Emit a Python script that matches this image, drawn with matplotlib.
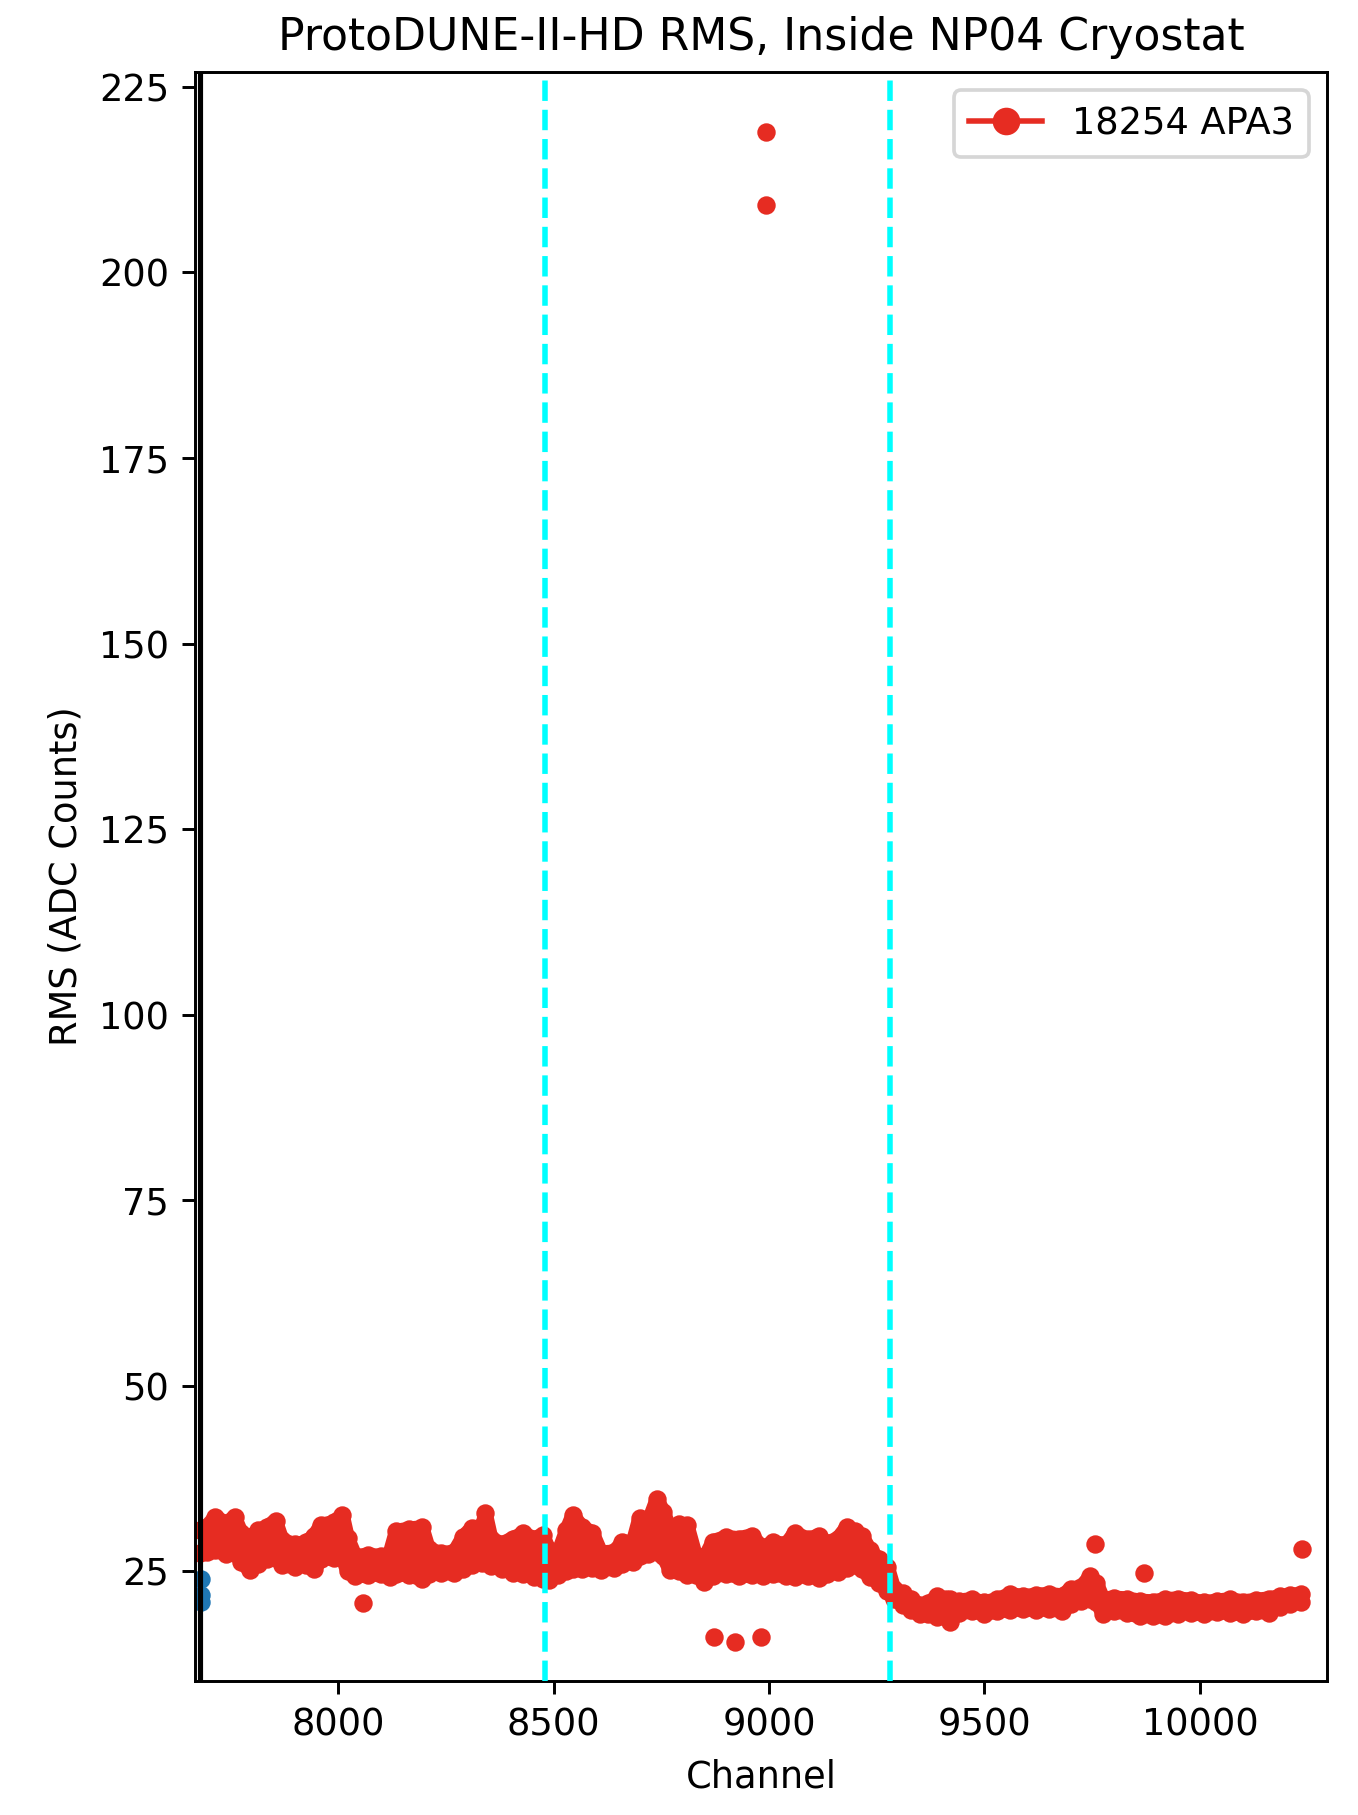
import matplotlib
matplotlib.use("Agg")
import matplotlib.pyplot as plt
from matplotlib.lines import Line2D
import numpy as np

# band of the noise cloud: channel, upper / lower edge (marker centres)
band_ch = [7680, 7695, 7715, 7740, 7760, 7775, 7795, 7815, 7835, 7855,
           7870, 7900, 7925, 7945, 7960, 7990, 8010, 8022, 8040, 8070,
           8100, 8120, 8135, 8165, 8195, 8210, 8240, 8270, 8290, 8310,
           8335, 8342, 8355, 8380, 8405, 8430, 8455, 8475, 8490, 8510,
           8530, 8545, 8565, 8590, 8610, 8640, 8660, 8685, 8700, 8720,
           8740, 8755, 8770, 8790, 8810, 8830, 8850, 8870, 8900, 8930,
           8960, 8985, 9010, 9040, 9060, 9090, 9115, 9135, 9160, 9180,
           9200, 9215, 9235, 9255, 9275, 9290, 9310, 9330, 9350, 9370,
           9390, 9410, 9420, 9440, 9470, 9500, 9530, 9560, 9590, 9620,
           9650, 9680, 9700, 9725, 9745, 9760, 9775, 9800, 9830, 9860,
           9890, 9920, 9950, 9980, 10010, 10040, 10070, 10100, 10130, 10160,
           10185, 10210, 10235]
band_hi = [30.5, 31.0, 32.3, 31.5, 32.3, 30.2, 29.6, 30.5, 31.0, 31.8,
           29.2, 28.6, 28.9, 29.8, 31.2, 31.6, 32.6, 29.5, 27.0, 27.2,
           27.0, 27.3, 30.4, 30.7, 30.9, 28.0, 27.4, 27.6, 29.6, 30.8,
           31.1, 32.8, 29.4, 28.7, 29.4, 30.1, 29.4, 29.9, 27.8, 27.3,
           30.5, 32.6, 31.0, 30.2, 27.5, 27.6, 28.9, 29.0, 32.2, 31.6,
           34.7, 33.0, 30.7, 31.4, 31.2, 27.0, 26.7, 29.0, 29.6, 29.4,
           29.8, 28.2, 28.9, 28.6, 30.2, 29.3, 29.8, 28.8, 29.4, 30.9,
           30.4, 29.8, 27.8, 26.6, 25.6, 22.6, 22.0, 21.3, 20.4, 20.7,
           21.6, 21.3, 21.2, 21.0, 21.2, 20.8, 21.2, 21.9, 21.6, 21.8,
           21.9, 21.7, 22.6, 22.9, 24.3, 23.4, 21.3, 21.4, 21.3, 21.0,
           20.9, 21.2, 21.3, 21.1, 20.8, 21.0, 21.2, 20.9, 21.1, 21.3,
           21.6, 21.8, 21.9]
band_lo = [27.5, 27.6, 27.8, 27.3, 27.6, 26.2, 25.2, 26.0, 26.6, 26.8,
           25.8, 25.6, 25.9, 25.3, 26.6, 26.8, 26.9, 25.0, 24.3, 24.5,
           24.6, 24.2, 24.6, 24.5, 23.9, 24.6, 24.8, 24.7, 25.3, 25.8,
           26.1, 26.4, 25.7, 25.3, 24.8, 24.6, 24.2, 23.9, 23.8, 24.5,
           25.0, 25.3, 25.3, 25.4, 25.2, 25.4, 26.0, 26.2, 27.0, 27.3,
           27.6, 27.0, 25.2, 25.0, 24.5, 24.5, 23.6, 24.4, 24.6, 24.3,
           24.5, 24.4, 24.6, 24.3, 24.2, 24.4, 24.1, 24.6, 24.9, 25.5,
           25.8, 25.3, 24.2, 23.4, 22.4, 21.2, 20.5, 19.8, 19.2, 19.2,
           18.8, 18.8, 18.2, 19.4, 19.6, 19.3, 19.6, 19.8, 19.9, 19.8,
           19.9, 19.7, 20.6, 21.0, 21.3, 20.9, 19.3, 19.6, 19.4, 18.9,
           19.0, 18.9, 19.3, 19.4, 19.2, 19.5, 19.4, 19.2, 19.6, 19.4,
           20.2, 20.6, 20.8]

# isolated channels away from the cloud
out_ch = [8058, 8873, 8920, 8981, 8992, 8992, 9757, 9871, 10238]
out_rms = [20.7, 16.1, 15.4, 16.1, 218.9, 209.1, 28.7, 24.8, 28.0]

# the few blue points sitting on the APA boundary
blue_ch = [7681, 7681, 7681]
blue_rms = [23.9, 21.8, 20.8]

apa_start = 7680
plane_edges = [8480, 9280]

red = '#e62c22'
dpi = 265
fig = plt.figure(figsize=(1358 / dpi, 1815 / dpi), dpi=dpi)
ax = fig.add_subplot(111)
fig.subplots_adjust(left=0.1436, right=0.9772, top=0.9603, bottom=0.0738)

# red cloud: fill between edges, edges drawn as thick round lines (marker width)
ax.fill_between(band_ch, band_lo, band_hi, color=red, lw=0, zorder=2)
ax.plot(band_ch, band_hi, color=red, lw=4, solid_capstyle='round', solid_joinstyle='round', zorder=2)
ax.plot(band_ch, band_lo, color=red, lw=4, solid_capstyle='round', solid_joinstyle='round', zorder=2)
ax.plot(band_ch, band_hi, 'o', color=red, ms=4, zorder=2)
ax.plot(band_ch, band_lo, 'o', color=red, ms=4, zorder=2)
ax.plot(out_ch, out_rms, 'o', color=red, ms=4, zorder=2)

ax.plot(blue_ch, blue_rms, 'o', color='#1f77b4', ms=4, zorder=2)

ax.axvline(apa_start, color='black', lw=1.4, zorder=3)
for x in plane_edges:
    ax.axvline(x, color='cyan', ls='--', lw=1.5, zorder=3)

ax.set_xlim(7668, 10295)
ax.set_ylim(10.2, 227)
ax.set_xticks([8000, 8500, 9000, 9500, 10000])
ax.set_yticks([25, 50, 75, 100, 125, 150, 175, 200, 225])

ax.set_title('ProtoDUNE-II-HD RMS, Inside NP04 Cryostat')
ax.set_xlabel('Channel')
ax.set_ylabel('RMS (ADC Counts)')

handle = Line2D([], [], color=red, marker='o', markersize=6.5, lw=1.5)
ax.legend([handle], ['18254 APA3'], loc='upper right')

fig.savefig('out.png', dpi=dpi)
